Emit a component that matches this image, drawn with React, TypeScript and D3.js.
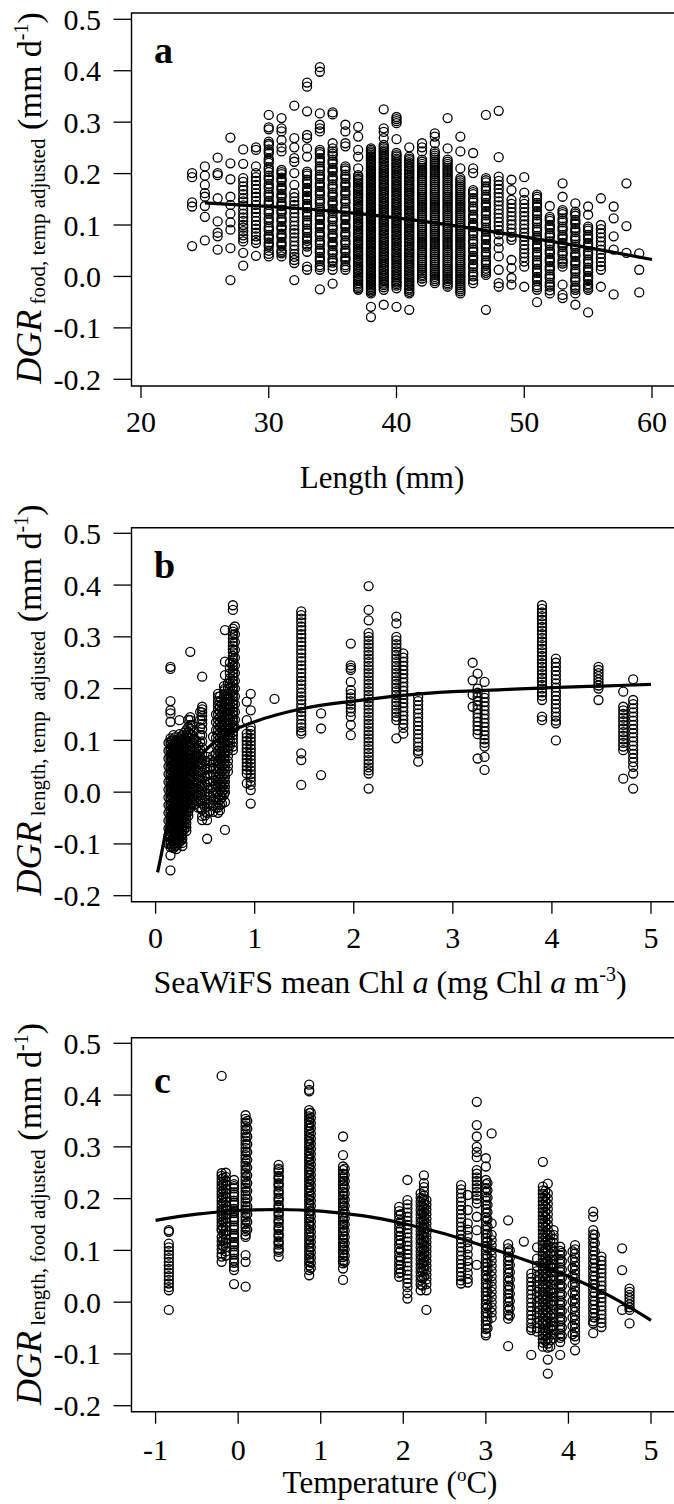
import React from 'react';
import * as d3 from 'd3';

const SERIF = '"Liberation Serif", "Times New Roman", serif';

const yTicks = [-0.2, -0.1, 0, 0.1, 0.2, 0.3, 0.4, 0.5];
const yTickLabels = ['-0.2', '-0.1', '0.0', '0.1', '0.2', '0.3', '0.4', '0.5'];
const lengthTicks = [20, 30, 40, 50, 60];
const chlTicks = [0, 1, 2, 3, 4, 5];
const tempTicks = [-1, 0, 1, 2, 3, 4, 5];

// Panel a: length (mm) -> DGR values (thousandths of mm/d)
const lengthCols: [number, string][] = [
  [24, '201 193 144 136 59'],
  [25, '214 196 178 162 155 137 116 70'],
  [26, '231 201 197 152 107 85 78 52'],
  [27, '270 220 189 155 139 122 105 91 55 -7'],
  [28, '247 219 191 184 175 168 160 152 146 138 130 122 115 108 100 95 88 80 74 68 46 21'],
  [29, '251 246 214 201 193 186 178 170 162 155 147 139 131 124 116 108 100 93 85 78 71 65 40'],
  [30, '314 290 286 262 255 247 239 229 221 212 203 196 188 180 171 163 155 147 139 130 122 114 105 97 89 81 73 66 58 50 44 39'],
  [31, '308 288 282 265 251 243 207 199 192 184 176 168 161 153 145 137 130 122 114 106 98 91 83 75 67 59 51 45 39'],
  [32, '332 269 251 230 223 201 178 162 154 146 139 131 123 115 107 99 91 84 76 68 60 52 44 38 32 26 -7'],
  [33, '377 369 321 275 269 249 233 204 196 188 180 172 164 157 149 141 133 125 117 109 101 93 85 77 69 62 58 48 19 13'],
  [34, '407 398 317 295 288 282 246 238 230 222 214 206 198 190 182 174 166 158 150 142 134 126 118 110 102 94 86 78 70 62 54 46 38 30 22 13 -25'],
  [35, '319 315 259 249 243 235 227 219 211 203 195 187 179 171 163 155 147 139 131 123 115 107 99 91 83 75 67 59 51 43 35 27 20 13 -14'],
  [36, '295 282 259 253 214 206 198 190 182 174 166 158 150 142 134 126 118 110 102 94 86 78 70 62 54 46 38 30 22 13'],
  [37, '291 272 246 233 210 197 190 183 176 169 162 155 148 141 134 127 120 113 106 99 92 85 78 71 64 57 50 43 36 29 22 15 8 1 -6 -13 -20 -26'],
  [38, '249 243 237 231 225 219 213 207 201 195 189 183 177 171 165 159 153 147 141 135 129 123 117 111 105 99 93 87 81 75 69 63 57 51 45 39 33 27 21 15 9 3 -3 -9 -15 -21 -27 -33 -59 -79'],
  [39, '325 288 281 269 256 249 242 235 228 221 214 207 200 193 186 179 172 165 158 151 144 137 130 123 116 109 102 95 88 81 74 67 60 53 46 39 32 25 18 11 4 -3 -10 -17 -26 -55'],
  [40, '310 306 302 298 267 240 233 226 219 212 205 198 191 184 177 170 163 156 149 142 135 128 121 114 107 100 93 86 79 72 65 58 51 44 37 30 23 16 9 2 -5 -12 -18 -23 -59'],
  [41, '251 233 226 219 212 205 198 191 184 177 170 163 156 149 142 135 128 121 114 107 100 93 86 79 72 65 58 51 44 37 30 23 16 9 2 -5 -12 -19 -26 -33 -65'],
  [42, '259 251 243 227 219 211 203 195 187 179 171 163 155 147 139 131 123 115 107 99 91 83 75 67 59 51 43 35 27 19 11 3 -4 -10'],
  [43, '278 272 259 243 235 227 219 211 203 195 187 179 171 163 155 147 139 131 123 115 107 99 91 83 75 67 59 51 43 35 27 19 11 3 -5 -13'],
  [44, '308 249 227 219 211 203 195 187 179 171 163 155 147 139 131 123 115 107 99 91 83 75 67 59 51 43 35 27 19 11 3 -5 -13 -20'],
  [45, '272 243 210 191 183 175 167 159 151 143 135 127 119 111 103 95 87 79 71 63 55 47 39 31 23 15 7 -1 -9 -17 -25 -33'],
  [46, '240 210 201 168 160 152 144 136 128 120 112 104 96 88 80 72 64 56 48 40 32 24 16 8 0 -7 -13'],
  [47, '314 191 183 175 167 159 151 143 135 127 119 111 103 95 87 79 71 63 55 47 39 31 23 15 7 3 -65'],
  [48, '322 232 194 186 178 170 162 154 146 138 130 122 114 106 98 90 82 68 55 39 13 -13 -20'],
  [49, '188 168 149 141 133 125 117 109 101 93 85 77 71 32 16 -3 -16'],
  [50, '193 163 149 141 133 125 117 109 101 93 85 77 69 61 53 45 37 29 19 -20'],
  [51, '159 151 143 135 127 119 111 103 95 87 79 71 63 55 47 39 31 23 15 7 -1 -9 -17 -26 -50'],
  [52, '137 116 108 100 92 84 76 68 60 52 44 36 28 20 12 4 -4 -12 -20 -27 -33'],
  [53, '181 155 129 121 113 105 97 89 81 73 65 57 49 41 33 25 19 -16 -36 -42'],
  [54, '142 126 118 110 102 94 86 78 70 62 54 46 38 30 22 14 6 -2 -10 -18 -26 -33 -55'],
  [55, '136 120 97 89 81 73 65 57 49 41 33 25 17 9 1 -7 -15 -22 -26 -70'],
  [56, '152 100 92 84 76 68 60 52 44 36 28 20 13 -20'],
  [57, '136 113 78 52 -35'],
  [58, '181 98 46'],
  [59, '45 13 -31'],
];
// extra overlapping circles that make the crowded columns look solid
const lengthColsDense: [number, string][] = [
  [30, '258 243 225 208 192 175 159 143 126 110 93 77 62'],
  [31, '203 188 172 157 141 126 110 95 79 63 48'],
  [33, '200 184 168 153 137 121 105 89 73'],
  [34, '242 226 210 194 178 162 146 130 114 98 82 66 50 34 18'],
  [35, '239 223 207 191 175 159 143 127 111 95 79 63 47 31'],
  [36, '210 194 178 162 146 130 114 98 82 66 50 34 18'],
  [37, '194 187 180 173 166 159 152 145 138 131 124 117 110 103 96 89 82 75 68 61 54 47 40 33 26 19 12 5 -2 -9 -16 -23'],
  [38, '246 240 234 228 222 216 210 204 198 192 186 180 174 168 162 156 150 144 138 132 126 120 114 108 102 96 90 84 78 72 66 60 54 48 42 36 30 24 18 12 6 0 -6 -12 -18 -24 -30'],
  [39, '252 245 238 231 224 217 210 203 196 189 182 175 168 161 154 147 140 133 126 119 112 105 98 91 84 77 70 63 56 49 42 35 28 21 14 7 0 -7 -14 -21'],
  [40, '236 229 222 215 208 201 194 187 180 173 166 159 152 145 138 131 124 117 110 103 96 89 82 75 68 61 54 47 40 33 26 19 12 5 -2 -9 -15'],
  [41, '229 222 215 208 201 194 187 180 173 166 159 152 145 138 131 124 117 110 103 96 89 82 75 68 61 54 47 40 33 26 19 12 5 -2 -9 -16 -23 -30'],
  [42, '223 215 207 199 191 183 175 167 159 151 143 135 127 119 111 103 95 87 79 71 63 55 47 39 31 23 15 7 0'],
  [43, '239 231 223 215 207 199 191 183 175 167 159 151 143 135 127 119 111 103 95 87 79 71 63 55 47 39 31 23 15 7 -1 -9'],
  [44, '223 215 207 199 191 183 175 167 159 151 143 135 127 119 111 103 95 87 79 71 63 55 47 39 31 23 15 7 -1 -9 -16'],
  [45, '187 179 171 163 155 147 139 131 123 115 107 99 91 83 75 67 59 51 43 35 27 19 11 3 -5 -13 -21 -29'],
  [46, '164 148 132 116 100 84 68 52 36 20 4'],
  [47, '187 171 155 139 123 107 91 75 59 43 27 11'],
  [51, '155 139 123 107 91 75 59 43 27 11 -5 -21'],
  [52, '112 96 80 64 48 32 16 0 -16'],
  [53, '125 109 93 77 61 45 29'],
  [54, '122 106 90 74 58 42 26 10 -6 -22'],
  [55, '93 77 61 45 29 13 -3 -18'],
];

// Panel b: SeaWiFS mean Chl a -> DGR values (thousandths)
const chlCols: [number, string][] = [
  [0.15, '242 238 176 158 152 136 104 98 92 86 80 74 68 62 56 50 44 38 32 26 20 14 8 2 -4 -10 -16 -22 -28 -34 -40 -46 -52 -58 -64 -70 -76 -82 -88 -94 -100 -106 -122 -151'],
  [0.18, '110 100 90 84 76 70 62 55 48 40 33 26 18 11 4 -3 -10 -17 -24 -31 -38 -45 -52 -59 -66 -73 -80 -87 -94 -101 -108'],
  [0.21, '100 92 85 77 70 62 55 47 40 32 25 17 10 2 -5 -13 -20 -28 -35 -43 -50 -58 -65 -73 -80 -88 -95 -103 -110'],
  [0.24, '139 112 104 96 88 80 72 64 56 48 40 32 24 16 8 0 -8 -16 -24 -32 -40 -48 -56 -64 -72 -80 -88 -96'],
  [0.27, '110 102 94 86 78 70 62 54 46 38 30 22 14 6 -2 -10 -18 -26 -34 -42 -50 -58 -66 -74 -82 -90 -98 -104'],
  [0.31, '120 108 100 92 84 76 68 60 52 44 36 28 20 12 4 -4 -12 -20 -28 -36 -44 -52 -60 -68 -75'],
  [0.35, '271 145 139 130 122 112 104 96 88 80 72 64 56 48 40 32 24 16 8 0 -8 -16 -24 -30'],
  [0.39, '120 100 86 72 60 48 36 24 12 0 -12 -24'],
  [0.43, '90 78 66 54 42 30 18 6 -6 -18 -30'],
  [0.47, '223 165 160 154 147 140 132 122 110 98 86 74 62 50 38 26 14 2 -10 -22 -34 -46 -54'],
  [0.52, '68 56 44 32 20 8 -4 -16 -28 -40 -54 -90'],
  [0.58, '107 70 58 46 34 22 10 -2 -14 -26 -38'],
  [0.63, '190 184 176 168 160 150 140 130 120 110 100 90 80 70 60 50 40 30 20 10 0 -10 -20 -30 -40'],
  [0.67, '170 160 150 140 130 120 110 100 90 80 70 60 50 40 30 20 10 0 -10 -22'],
  [0.7, '313 252 226 200 190 180 170 160 150 140 130 120 110 100 90 80 70 60 50 40 30 20 10 0 -19 -73'],
  [0.73, '210 200 190 180 170 160 150 140 130 120 110 100 90 80 70 60 50 40'],
  [0.78, '361 352 316 310 304 297 290 283 276 270 263 256 250 243 236 230 223 216 210 203 196 190 183 176 170 163 156 150 143 136 130 123 116 110 103 96 88 81'],
  [0.92, '175 139 113 106 99 92 85 78 71 64 57 50 43 36 17'],
  [0.96, '190 158 126 119 112 105 98 91 84 77 70 63 56 49 42 35 28 21 14 4 -22'],
  [1.2, '180'],
  [1.47, '349 342 335 328 320 313 305 298 290 283 275 268 260 253 245 238 230 222 215 208 200 192 185 178 170 162 155 148 140 132 125 118 113 75 62 14'],
  [1.67, '152 123 33'],
  [1.97, '287 245 240 236 213 197 190 183 176 169 162 155 146 130 110'],
  [2.15, '398 352 332 307 300 293 286 279 272 265 258 251 244 237 230 223 216 209 202 195 188 181 174 167 160 153 146 139 132 125 118 111 104 97 90 83 76 69 62 55 48 42 36 7'],
  [2.43, '339 326 300 293 286 279 272 265 258 251 244 237 230 223 216 209 202 195 188 181 174 167 160 153 146 139 104'],
  [2.5, '268 260 252 244 236 228 220 212 204 196 188 180 172 164 156 148 140 132 124 113'],
  [2.65, '184 176 168 160 152 144 136 128 120 112 104 96 88 80 75 59'],
  [3.2, '250 216 188 165'],
  [3.25, '229 200 192 184 176 168 160 152 144 136 128 120 112 65'],
  [3.32, '213 190 182 174 166 158 150 142 134 126 118 110 102 95 88 68 43'],
  [3.9, '361 354 347 340 333 326 319 312 305 298 291 284 277 270 263 256 249 242 235 228 221 214 207 200 193 186 178 146 139'],
  [4.04, '258 250 242 234 226 218 210 202 194 186 178 170 162 154 146 138 133 100'],
  [4.47, '242 236 230 224 218 212 206 200 178'],
  [4.72, '194 165 158 151 144 137 130 123 116 109 102 95 88 81 26'],
  [4.82, '218 178 170 162 154 146 138 130 122 114 106 98 90 82 74 66 58 49 36 7'],
];
const chlColsDense: [number, string][] = [
  [0.13, '95 80 65 50 35 20 5 -10 -25 -40 -55 -70 -85 -100'],
  [0.165, '100 88 76 64 52 40 28 16 4 -8 -20 -32 -44 -56 -68 -80 -92 -104'],
  [0.195, '106 96 88 80 73 66 58 51 44 36 29 22 14 7 0 -7 -14 -21 -28 -35 -42 -49 -56 -63 -70 -77 -84 -91 -98 -105'],
  [0.225, '96 88 81 73 66 58 51 43 36 28 21 13 6 -2 -9 -17 -24 -32 -39 -47 -54 -62 -69 -77 -84 -92 -99'],
  [0.255, '106 98 90 82 74 66 58 50 42 34 26 18 10 2 -6 -14 -22 -30 -38 -46 -54 -62 -70 -78 -86 -94'],
  [0.29, '115 104 96 88 80 72 64 56 48 40 32 24 16 8 0 -8 -16 -24 -32 -40 -48 -56 -64 -72'],
  [0.33, '140 126 116 106 98 90 82 74 66 58 50 42 34 26 18 10 2 -6 -14 -22 -30 -38 -46'],
  [0.37, '128 110 95 80 66 52 40 28 16 4 -8 -20'],
  [0.41, '100 85 70 58 45 33 20 8 -4 -16'],
  [0.45, '155 140 125 110 96 82 68 54 40 26 12 -2 -16 -30'],
  [0.5, '60 45 30 15 0 -15 -30 -45'],
  [0.55, '62 48 34 20 6 -8 -22 -36'],
  [0.61, '150 135 120 105 90 75 60 45 30 15 0 -15 -30'],
  [0.65, '185 175 165 155 145 135 125 115 105 95 85 75 65 55 45 35 25 15 5 -5 -15 -25 -35'],
  [0.69, '205 195 185 175 165 155 145 135 125 115 105 95 85 75 65 55 45 35 25 15 5 -5'],
  [0.75, '250 240 230 220 210 200 190 180 170 160 150 140 130 120 110 100 90'],
  [0.8, '320 305 290 275 260 245 230 215 200 185 170 155 140 125'],
];

// Panel c: temperature (°C) -> DGR values (thousandths)
const tempCols: [number, string][] = [
  [-0.84, '139 136 113 106 99 92 85 78 71 64 57 50 43 36 29 23 -15'],
  [-0.2, '437 249 244 238 232 226 220 214 208 202 196 190 184 178 172 166 160 154 148 142 139 126 118 110 102 94 88 78'],
  [-0.15, '250 242 234 226 218 210 202 194 186 178 170 162 154 146 138 130 122 114 106 98 90'],
  [-0.05, '236 228 220 212 204 196 188 180 172 164 156 148 140 132 124 116 108 100 92 84 76 68 62 35'],
  [0.09, '361 354 347 340 333 326 319 312 305 298 291 284 277 270 263 256 249 242 235 228 221 214 207 200 193 186 179 172 165 158 151 144 137 130 126 91 78 30'],
  [0.49, '265 258 251 244 237 230 223 216 209 202 195 188 181 174 167 160 153 146 139 132 125 118 111 104 97 88'],
  [0.86, '420 410 407 371 365 359 353 347 341 335 329 323 317 311 305 299 293 287 281 275 269 263 257 251 245 239 233 227 221 215 209 204 197 190 183 176 169 162 155 148 141 134 127 120 113 106 99 92 85 78 71 62 52'],
  [1.27, '320 284 262 255 248 241 234 227 220 213 206 199 192 185 178 171 164 157 150 143 136 129 122 115 108 101 94 87 80 75 65 43'],
  [1.95, '184 176 168 160 152 144 136 128 120 112 104 96 88 80 72 64 56 49'],
  [2.05, '236 197 189 181 173 165 157 149 141 133 125 117 109 101 93 85 77 69 61 53 45 37 29 17 7'],
  [2.21, '210 202 194 186 178 170 162 154 146 138 130 122 114 106 98 90 82 74 66 58 50 42 34 23'],
  [2.25, '245 230 222 214 206 198 190 182 174 166 158 150 142 134 126 118 110 102 94 86 78 70 62 49'],
  [2.28, '197 188 179 170 161 152 143 134 125 116 107 98 89 80 71 62 53 44 35 23 -15'],
  [2.7, '226 218 210 202 194 186 178 170 162 154 146 138 130 122 114 106 98 90 82 74 66 58 50 42 36'],
  [2.78, '207 178 152 140 128 116 104 92 80 68 56 45 38'],
  [2.89, '387 342 320 300 290 280 255 248 241 234 227 220 213 206 199 191 165 139 72'],
  [3.0, '278 262 236 228 220 212 204 196 188 180 172 164 156 148 140 132 124 116 108 100 92 84 76 68 60 52 44 36 28 20 12 4 -4 -12 -20 -28 -36 -44 -52 -60 -64'],
  [3.07, '326 152 130 120 110 100 90 80 70 60 50 40 30 20 10 0 -10 -20 -30'],
  [3.27, '158 112 104 96 88 80 72 64 56 48 40 32 24 16 8 0 -8 -16 -24 -32 -85'],
  [3.46, '117'],
  [3.55, '55 47 39 31 23 15 7 -1 -9 -17 -25 -33 -41 -49 -54 -102'],
  [3.62, '106 84 70 60 50 40 30 20 10 0 -10 -20 -30 -40 -50 -57'],
  [3.69, '271 223 216 209 202 195 188 181 174 167 160 153 146 139 132 125 118 111 104 97 90 83 76 69 62 55 48 41 34 27 20 13 6 -1 -8 -15 -22 -29 -36 -43 -50 -57 -64 -71 -78 -86'],
  [3.75, '229 210 200 190 180 170 160 150 140 130 120 110 100 90 80 70 60 50 40 30 20 10 0 -10 -20 -30 -40 -50 -60 -70 -80 -88 -111 -138'],
  [3.82, '139 130 122 114 106 98 90 82 74 66 58 50 42 34 26 18 10 2 -6 -14 -22 -30 -38 -46 -54 -62 -70'],
  [3.9, '107 99 91 83 75 67 59 51 43 35 27 19 11 3 -5 -13 -21 -29 -37 -45 -53 -61 -69 -77 -102'],
  [4.08, '110 102 94 86 78 70 62 54 46 38 30 22 14 6 -2 -10 -18 -26 -34 -42 -50 -58 -66 -73 -93'],
  [4.3, '175 165 139 131 123 115 107 99 91 83 75 67 59 51 43 35 27 19 11 3 -5 -13 -21 -29 -37 -41 -60'],
  [4.4, '88 80 72 64 56 48 40 32 24 16 8 0 -8 -16 -24 -32 -40 -48'],
  [4.65, '104 62 -15'],
  [4.74, '26 20 14 8 2 -4 -10 -15 -41'],
];
const tempColsDense: [number, string][] = [
  [-0.18, '240 228 216 204 192 180 168 156 144 132 120 108'],
  [-0.05, '224 208 192 176 160 144 128 112 96 80'],
  [0.11, '350 335 320 305 290 275 260 245 230 215 200 185 170 155 140'],
  [0.49, '255 241 227 213 199 185 171 157 143 129 115 101'],
  [0.88, '366 356 346 336 326 316 306 296 286 276 266 256 246 236 226 216 206 196 186 176 166 156 146 136 126 116 106 96 86 76 66'],
  [1.29, '258 246 234 222 210 198 186 174 162 150 138 126 114 102 90 78'],
  [1.97, '170 156 142 128 114 100 86 72 58'],
  [2.23, '200 186 172 158 144 130 116 102 88 74 60 46 32'],
  [3.02, '230 216 202 188 174 160 146 132 118 104 90 76 62 48 34 20 6 -8 -22 -36 -50'],
  [3.29, '100 86 72 58 44 30 16 2 -12 -26'],
  [3.72, '215 205 195 185 175 165 155 145 135 125 115 105 95 85 75 65 55 45 35 25 15 5 -5 -15 -25 -35 -45 -55 -65 -75'],
  [3.78, '130 118 106 94 82 70 58 46 34 22 10 -2 -14 -26 -38 -50 -62 -74 -86'],
  [3.92, '95 79 63 47 31 15 -1 -17 -33 -49 -65'],
  [4.05, '98 82 66 50 34 18 2 -14 -30 -46 -62'],
  [4.32, '130 114 98 82 66 50 34 18 2 -14 -30'],
];

// Fitted curves
const fitLength: [number, number][] = [
  [25, 0.143], [30, 0.136], [35, 0.127], [40, 0.114], [45, 0.097], [50, 0.077], [55, 0.056], [60, 0.033],
];
const fitChl: [number, number][] = [
  [0.02, -0.155], [0.05, -0.128], [0.1, -0.079], [0.15, -0.045], [0.2, -0.015], [0.3, 0.03], [0.4, 0.056],
  [0.5, 0.08], [0.75, 0.116], [1, 0.136], [1.5, 0.162], [2, 0.176], [2.5, 0.187], [3, 0.194], [3.5, 0.198],
  [4, 0.202], [4.5, 0.205], [5, 0.208],
];
const fitTemp: [number, number][] = [
  [-1, 0.158], [-0.5, 0.17], [0, 0.177], [0.5, 0.179], [1, 0.176], [1.5, 0.167], [2, 0.152], [2.5, 0.132],
  [3, 0.107], [3.5, 0.08], [4, 0.05], [4.5, 0.012], [5, -0.035],
];

type Pt = { x: number; y: number };
const parseCols = (cols: [number, string][]): Pt[] =>
  cols.flatMap(([x, s]) => s.trim().split(/\s+/).map((v) => ({ x, y: +v / 1000 })));

type PanelProps = {
  xDomain: [number, number];
  xRange: [number, number];
  yRange: [number, number];
  box: { left: number; top: number; bottom: number };
  xTicks: number[];
  points: Pt[];
  fit: [number, number][];
  letter: string;
  letterPos: [number, number];
  tickLabelY: number;
  yTitlePos: [number, number];
  sub: string;
  xTitle: React.ReactNode;
};

function Panel(p: PanelProps) {
  const x = d3.scaleLinear().domain(p.xDomain).range(p.xRange);
  const y = d3.scaleLinear().domain([-0.2, 0.5]).range(p.yRange);
  const line = d3
    .line<[number, number]>()
    .x((d) => x(d[0]))
    .y((d) => y(d[1]))
    .curve(d3.curveMonotoneX);
  const { left, top, bottom } = p.box;
  return (
    <g fontFamily={SERIF} fill="#000">
      <path d={`M700,${top}H${left}V${bottom}H700`} fill="none" stroke="#000" strokeWidth={1.4} />
      {yTicks.map((t, i) => (
        <g key={'yt' + i}>
          <line x1={left - 18} x2={left} y1={y(t)} y2={y(t)} stroke="#000" strokeWidth={1.3} />
          <text x={101} y={y(t)} dy="0.35em" textAnchor="end" fontSize={30}>
            {yTickLabels[i]}
          </text>
        </g>
      ))}
      {p.xTicks.map((t) => (
        <g key={'xt' + t}>
          <line x1={x(t)} x2={x(t)} y1={bottom} y2={bottom + 12} stroke="#000" strokeWidth={1.3} />
          <text x={x(t)} y={p.tickLabelY} textAnchor="middle" fontSize={30}>
            {String(t)}
          </text>
        </g>
      ))}
      <g fill="none" stroke="#000" strokeWidth={1.3}>
        {p.points.map((d, i) => (
          <circle key={i} cx={x(d.x)} cy={y(d.y)} r={4.5} />
        ))}
      </g>
      <path d={line(p.fit) || ''} fill="none" stroke="#000" strokeWidth={3.2} />
      <text x={p.letterPos[0]} y={p.letterPos[1]} fontSize={38} fontWeight="bold">
        {p.letter}
      </text>
      <text
        transform={`translate(${p.yTitlePos[0]},${p.yTitlePos[1]}) rotate(-90)`}
        textAnchor="middle"
      >
        <tspan fontSize={36} fontStyle="italic">DGR</tspan>
        <tspan fontSize={21} dy={4}>{'\u00a0' + p.sub}</tspan>
        <tspan fontSize={34} dy={-4}>{'\u00a0(mm d'}</tspan>
        <tspan fontSize={20} dy={-13}>-1</tspan>
        <tspan fontSize={34} dy={13}>)</tspan>
      </text>
      {p.xTitle}
    </g>
  );
}

export default function App() {
  const ptsA = parseCols(lengthCols).concat(parseCols(lengthColsDense));
  const ptsB = parseCols(chlCols).concat(parseCols(chlColsDense));
  const ptsC = parseCols(tempCols).concat(parseCols(tempColsDense));
  return (
    <svg
      width={674}
      height={1504}
      style={{ position: 'absolute', left: 0, top: 0, background: '#fff' }}
    >
      <rect width={674} height={1504} fill="#fff" />
      <Panel
        xDomain={[20, 60]}
        xRange={[141, 652]}
        yRange={[379.3, 19.3]}
        box={{ left: 131.5, top: 13, bottom: 386 }}
        xTicks={lengthTicks}
        points={ptsA}
        fit={fitLength}
        letter="a"
        letterPos={[154, 63]}
        tickLabelY={432}
        yTitlePos={[41, 198]}
        sub="food, temp adjusted"
        xTitle={
          <text x={382} y={488} textAnchor="middle" fontSize={31} fontFamily={SERIF}>
            Length (mm)
          </text>
        }
      />
      <Panel
        xDomain={[0, 5]}
        xRange={[155.6, 651]}
        yRange={[895.7, 533.3]}
        box={{ left: 131.5, top: 527.7, bottom: 901.7 }}
        xTicks={chlTicks}
        points={ptsB}
        fit={fitChl}
        letter="b"
        letterPos={[154, 578]}
        tickLabelY={948}
        yTitlePos={[41, 700]}
        sub={'length, temp\u00a0 adjusted'}
        xTitle={
          <text x={390} y={993} textAnchor="middle" fontSize={32} fontFamily={SERIF}>
            SeaWiFS mean Chl <tspan fontStyle="italic">a</tspan> (mg Chl{' '}
            <tspan fontStyle="italic">a</tspan> m<tspan fontSize={20} dy={-12}>-3</tspan>
            <tspan dy={12}>)</tspan>
          </text>
        }
      />
      <Panel
        xDomain={[-1, 5]}
        xRange={[155.6, 651]}
        yRange={[1405.7, 1043.3]}
        box={{ left: 131.5, top: 1037.7, bottom: 1411.7 }}
        xTicks={tempTicks}
        points={ptsC}
        fit={fitTemp}
        letter="c"
        letterPos={[154, 1093]}
        tickLabelY={1460}
        yTitlePos={[41, 1214]}
        sub="length, food adjusted"
        xTitle={
          <text x={390} y={1493} textAnchor="middle" fontSize={31} fontFamily={SERIF}>
            Temperature (<tspan fontSize={19} dy={-12}>o</tspan>
            <tspan dy={12}>C)</tspan>
          </text>
        }
      />
    </svg>
  );
}
